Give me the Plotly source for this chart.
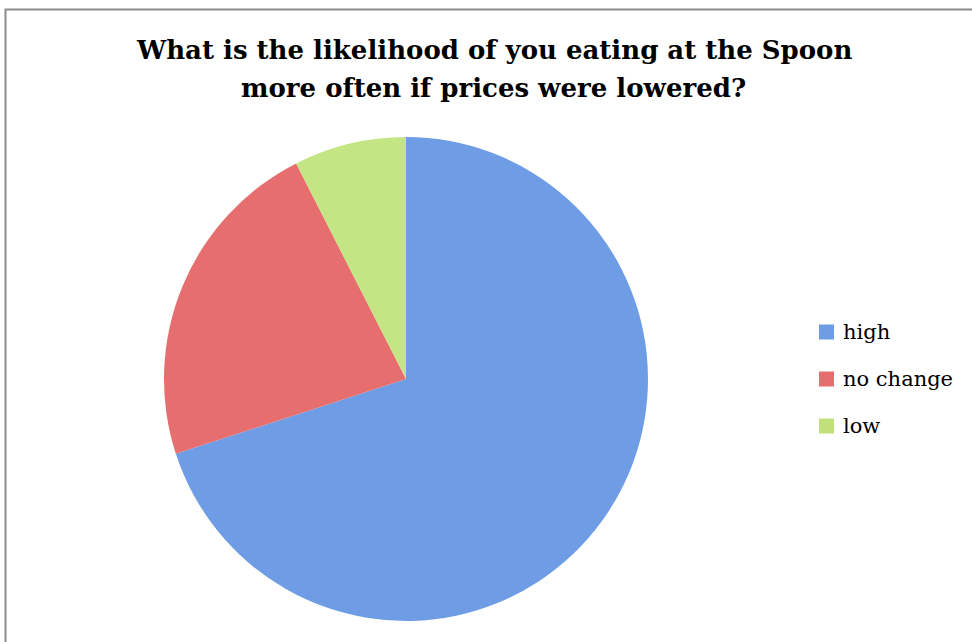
import plotly.graph_objects as go

W, H = 972, 642

title_lines = ["What is the likelihood of you eating at the Spoon",
               "more often if prices were lowered?"]
labels = ["high", "no change", "low"]
values = [28, 9, 3]
colors = ["#6E9DE6", "#E66E6E", "#C3E583"]
legend_colors = ["#6E9DE6", "#E66E6E", "#BFE07A"]

# geometry in pixels
cx, cy, r = 406, 379, 242

fig = go.Figure()
fig.add_trace(go.Pie(
    labels=labels, values=values, sort=False, direction="clockwise", rotation=0,
    marker=dict(colors=colors, line=dict(width=0)),
    textinfo="none", hoverinfo="label+value+percent", showlegend=False,
    domain=dict(x=[(cx - r) / W, (cx + r) / W], y=[(H - cy - r) / H, (H - cy + r) / H]),
))

shapes = [dict(type="rect", xref="paper", yref="paper",
               x0=5.5 / W, x1=1.02, y0=-0.02, y1=(H - 9.5) / H,
               line=dict(color="#8C8C8C", width=2), fillcolor="rgba(0,0,0,0)", layer="above")]
annotations = []
leg_x, leg_y0, leg_dy, sq = 819, 332, 47, 15
for i, (lab, col) in enumerate(zip(labels, legend_colors)):
    yc = leg_y0 + i * leg_dy
    shapes.append(dict(type="rect", xref="paper", yref="paper",
                       x0=leg_x / W, x1=(leg_x + sq) / W,
                       y0=(H - yc - sq / 2) / H, y1=(H - yc + sq / 2) / H,
                       fillcolor=col, line=dict(width=0)))
    annotations.append(dict(text=lab, xref="paper", yref="paper",
                            x=(leg_x + sq + 7) / W, y=(H - yc) / H,
                            xanchor="left", yanchor="middle", showarrow=False,
                            font=dict(family="DejaVu Serif", size=21, color="#000000")))

for j, line in enumerate(title_lines):
    annotations.append(dict(text="<b>" + line + "</b>", xref="paper", yref="paper",
                            x=494 / W, y=(H - (50 + j * 38)) / H,
                            xanchor="center", yanchor="middle", showarrow=False,
                            font=dict(family="DejaVu Serif", size=26, color="#000000")))

fig.update_layout(
    width=W, height=H, margin=dict(l=0, r=0, t=0, b=0),
    paper_bgcolor="white", plot_bgcolor="white",
    shapes=shapes, annotations=annotations, showlegend=False,
)
fig.write_html("out.html")
